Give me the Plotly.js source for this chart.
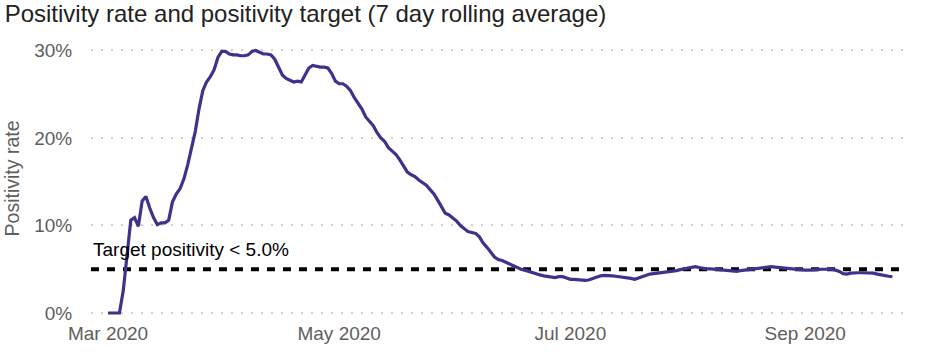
<!DOCTYPE html>
<html>
<head>
<meta charset="utf-8">
<script src="https://cdn.plot.ly/plotly-3.0.1.min.js"></script>
<style>html,body{margin:0;padding:0;background:#fff;}#chart{width:936px;height:354px;}</style>
</head>
<body>
<div id="chart"></div>
<script>
// ---- data ----
const startDate = '2020-03-01';
const positivity = [
  0, 0, 0, 0, 2.5, 7.0, 10.6, 10.9, 9.9, 12.8,
  13.3, 12.0, 10.9, 10.1, 10.3, 10.3, 10.6, 12.7, 13.6, 14.2,
  15.3, 16.9, 18.7, 20.7, 23.3, 25.4, 26.4, 27.0, 27.8, 29.2,
  29.9, 29.9, 29.6, 29.5, 29.5, 29.4, 29.4, 29.5, 29.9, 30.0,
  29.8, 29.6, 29.6, 29.5, 29.0, 28.0, 27.2, 26.8, 26.6, 26.4,
  26.5, 26.4, 27.2, 28.0, 28.3, 28.2, 28.1, 28.1, 28.0, 27.4,
  26.5, 26.2, 26.2, 25.9, 25.4, 24.6, 23.9, 23.3, 22.4, 21.9,
  21.4, 20.6, 20.0, 19.6, 18.9, 18.5, 18.1, 17.5, 16.8, 16.1,
  15.8, 15.6, 15.2, 14.9, 14.6, 14.1, 13.6, 12.9, 12.1, 11.4,
  11.2, 10.9, 10.5, 10.0, 9.6, 9.3, 9.2, 9.1, 8.7, 8.0,
  7.5, 6.9, 6.4, 6.1, 6.0, 5.8, 5.6, 5.35, 5.15, 5.0,
  4.9, 4.75, 4.6, 4.45, 4.35, 4.25, 4.2, 4.1, 4.05, 4.15,
  4.15, 4.0, 3.85, 3.85, 3.8, 3.75, 3.72, 3.8, 3.95, 4.1,
  4.25, 4.3, 4.3, 4.25, 4.2, 4.15, 4.1, 4.05, 3.95, 3.85,
  4.0, 4.15, 4.3, 4.45, 4.5, 4.55, 4.6, 4.65, 4.75, 4.8,
  4.85, 4.95, 5.05, 5.15, 5.25, 5.3, 5.2, 5.1, 5.05, 5.05,
  5.0, 4.95, 4.9, 4.9, 4.85, 4.75, 4.75, 4.85, 4.9, 4.95,
  5.0, 5.05, 5.1, 5.15, 5.25, 5.3, 5.25, 5.2, 5.15, 5.1,
  5.05, 5.0, 4.95, 4.95, 4.9, 4.9, 4.9, 4.95, 5.0, 5.0,
  5.0, 5.0, 4.9, 4.75, 4.5, 4.45, 4.55, 4.6, 4.6, 4.6,
  4.6, 4.6, 4.55, 4.45, 4.35, 4.25, 4.2, 4.15
];
const targetValue = 5.0;
const targetLabel = 'Target positivity < 5.0%';
const xTickDates = ['2020-03-01', '2020-05-01', '2020-07-01', '2020-09-01'];
const xTickLabels = ['Mar 2020', 'May 2020', 'Jul 2020', 'Sep 2020'];
const yTickValues = [0, 10, 20, 30];
const yTickLabels = ['0%', '10%', '20%', '30%'];
const titleText = 'Positivity rate and positivity target (7 day rolling average)';
const yTitleText = 'Positivity rate';

// build daily dates
function addDays(iso, n) {
  const d = new Date(iso + 'T00:00:00Z');
  d.setUTCDate(d.getUTCDate() + n);
  return d.toISOString().slice(0, 10);
}
const dates = positivity.map((_, i) => addDays(startDate, i));

const FONT = 'Liberation Sans, Arial, Helvetica, sans-serif';

const traces = [{
  type: 'scatter',
  mode: 'lines',
  x: dates,
  y: positivity,
  line: {color: '#41308c', width: 3.2},
  hoverinfo: 'skip'
}];

const layout = {
  width: 936,
  height: 354,
  margin: {l: 91, r: 31, t: 37, b: 34},
  paper_bgcolor: '#ffffff',
  plot_bgcolor: '#ffffff',
  showlegend: false,
  font: {family: FONT},
  title: {
    text: titleText,
    font: {family: FONT, size: 24, color: '#222222'},
    xref: 'container', x: 0.005, xanchor: 'left',
    yref: 'container', y: 0.962, yanchor: 'middle'
  },
  xaxis: {
    type: 'date',
    range: ['2020-02-25 12:00', '2020-09-27 08:00'],
    tickvals: xTickDates,
    ticktext: xTickLabels,
    showgrid: false,
    zeroline: false,
    showline: false,
    ticks: '',
    tickfont: {family: FONT, size: 19, color: '#5e5e5e'}
  },
  yaxis: {
    range: [-0.8, 31.54],
    tickvals: yTickValues,
    ticktext: yTickLabels,
    showgrid: true,
    gridcolor: '#cfcfcf',
    gridwidth: 2,
    griddash: '2px,8px',
    zeroline: false,
    showline: false,
    ticks: 'outside',
    ticklen: 14,
    tickcolor: 'rgba(0,0,0,0)',
    tickfont: {family: FONT, size: 19, color: '#5e5e5e'},
    title: {text: yTitleText, font: {family: FONT, size: 19.5, color: '#5e5e5e'}, standoff: 9},
    automargin: false
  },
  shapes: [{
    type: 'line',
    xref: 'paper', x0: 0, x1: 1,
    yref: 'y', y0: targetValue, y1: targetValue,
    line: {color: '#000000', width: 4, dash: '8px,8px'},
    layer: 'below'
  }],
  annotations: [{
    xref: 'paper', x: 0, xanchor: 'left',
    yref: 'y', y: 7.2, yanchor: 'middle',
    text: targetLabel,
    showarrow: false,
    font: {family: FONT, size: 19, color: '#000000'}
  }]
};

Plotly.newPlot('chart', traces, layout, {staticPlot: true, displayModeBar: false});
</script>
</body>
</html>
